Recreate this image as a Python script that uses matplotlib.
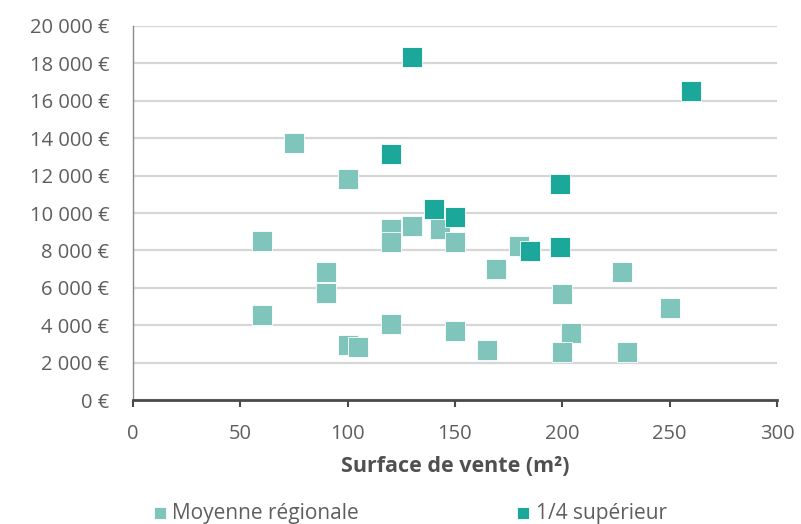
import matplotlib.pyplot as plt
from matplotlib.ticker import FuncFormatter, MultipleLocator

# surface de vente (m²) et chiffre d'affaires par m² (€)
moyenne_surface = [75, 100, 60, 90, 90, 60, 100, 105, 120, 120, 120, 130, 143, 150,
                   150, 165, 169, 180, 200, 204, 200, 228, 230, 250]
moyenne_ca = [13750, 11800, 8500, 6850, 5700, 4550, 2950, 2850, 9150, 8450, 4050, 9300,
              9150, 8450, 3700, 2700, 7000, 8250, 5650, 3600, 2550, 6850, 2550, 4900]

superieur_surface = [130, 260, 120, 199, 140, 150, 185, 199]
superieur_ca = [18350, 16550, 13150, 11550, 10200, 9800, 7950, 8200]

light = '#80c5bb'
dark = '#1ba89a'
text_grey = '#5e5e5e'

plt.rcParams['font.family'] = ['Open Sans', 'DejaVu Sans']

fig = plt.figure(figsize=(8.01, 5.24), dpi=100)
ax = fig.add_axes([0.166, 0.2366, 0.804, 0.7138])

ax.scatter(moyenne_surface, moyenne_ca, marker='s', s=205, color=light,
           edgecolors='white', linewidths=0.6, zorder=3, label='Moyenne régionale')
ax.scatter(superieur_surface, superieur_ca, marker='s', s=205, color=dark,
           edgecolors='white', linewidths=0.6, zorder=4, label='1/4 supérieur')

ax.set_xlim(0, 300)
ax.set_ylim(0, 20000)
ax.xaxis.set_major_locator(MultipleLocator(50))
ax.yaxis.set_major_locator(MultipleLocator(2000))
ax.yaxis.set_major_formatter(FuncFormatter(lambda v, p: f'{int(v):,} €'.replace(',', ' ')))

ax.grid(axis='y', color='#d6d6d6', linewidth=1.6, zorder=0)
ax.set_axisbelow(True)

for side in ('top', 'right'):
    ax.spines[side].set_visible(False)
ax.spines['left'].set_color('#8a8a8a')
ax.spines['left'].set_linewidth(1.0)
ax.spines['bottom'].set_color('#4a4a4a')
ax.spines['bottom'].set_linewidth(2.0)

ax.tick_params(axis='y', length=0, pad=17, labelsize=14.5, labelcolor=text_grey)
ax.tick_params(axis='x', direction='out', length=5, width=1.5, color='#4a4a4a',
               pad=12, labelsize=14.5, labelcolor=text_grey)

ax.set_xlabel('Surface de vente (m²)', fontsize=15.5, fontweight='bold',
              color='#505050', labelpad=9)

fig.legend(loc='lower left', bbox_to_anchor=(0.168, -0.035), ncol=2, frameon=False,
           markerscale=0.6, handlelength=0.6, handletextpad=0.3, columnspacing=7.6,
           labelcolor=text_grey, prop={'size': 15})

fig.savefig('out.png', dpi=100)
